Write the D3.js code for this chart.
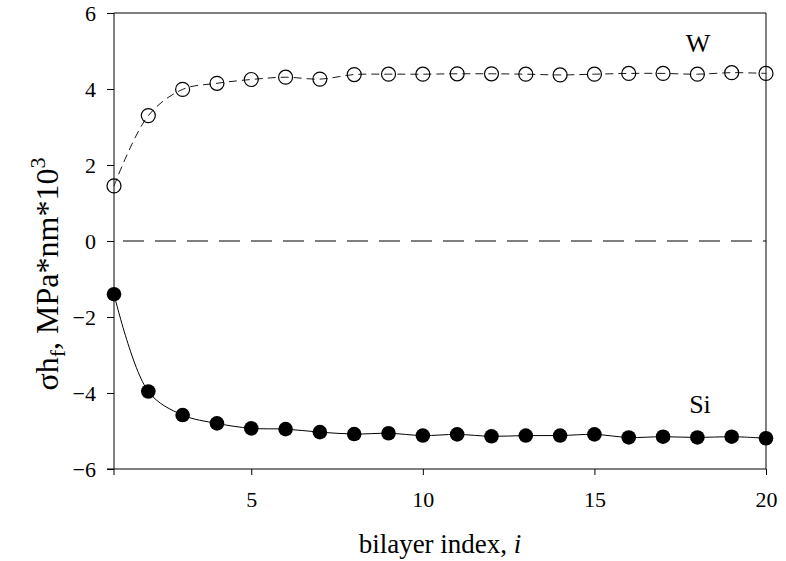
<!DOCTYPE html>
<html>
<head>
<meta charset="utf-8">
<script src="https://cdn.jsdelivr.net/npm/d3@7"></script>
<style>
  body { margin: 0; background: #fff; }
  text { font-family: "Liberation Serif", "Times New Roman", serif; fill: #000; }
</style>
</head>
<body>
<div class="chart"></div>
<script>
// bilayer index
var bilayer = d3.range(1, 21);
// W layers (open circles)
var wValues = [1.45, 3.30, 3.99, 4.15, 4.25, 4.31, 4.26, 4.38, 4.39, 4.39, 4.40, 4.40, 4.39,
    4.37, 4.39, 4.41, 4.41, 4.39, 4.43, 4.41];
// Si layers (filled circles)
var siValues = [-1.40, -3.96, -4.58, -4.80, -4.93, -4.95, -5.03, -5.08, -5.06, -5.12, -5.09, -5.14, -5.12,
    -5.12, -5.09, -5.17, -5.15, -5.17, -5.15, -5.19];
var xTicks = [5, 10, 15, 20];
var yTicks = [-6, -4, -2, 0, 2, 4, 6];

var width = 786, height = 561;
var margin = { top: 13, right: 20, bottom: 92, left: 114 };

var svg = d3.select(".chart").append("svg")
    .attr("width", width)
    .attr("height", height);

var x = d3.scaleLinear()
    .domain([1, 20])
    .range([margin.left, width - margin.right]);
var y = d3.scaleLinear()
    .domain([-6, 6])
    .range([height - margin.bottom, margin.top]);

// frame (top, right)
svg.append("path")
    .attr("d", `M${x(1)},${y(6)}H${x(20)}V${y(-6)}`)
    .attr("fill", "none")
    .attr("stroke", "#000");

var xAxis = svg.append("g")
    .attr("transform", `translate(0,${y(-6)})`)
    .call(d3.axisBottom(x).tickValues(xTicks).tickSize(6).tickSizeOuter(0).tickPadding(16));
var yAxis = svg.append("g")
    .attr("transform", `translate(${x(1)},0)`)
    .call(d3.axisLeft(y).tickValues(yTicks).tickSize(7).tickSizeOuter(0).tickPadding(11));

svg.selectAll(".domain").remove();
svg.append("line")
    .attr("x1", x(1) - 7).attr("x2", x(20))
    .attr("y1", y(-6)).attr("y2", y(-6))
    .attr("stroke", "#000");
svg.append("line")
    .attr("x1", x(1)).attr("x2", x(1))
    .attr("y1", y(6)).attr("y2", y(-6) + 6)
    .attr("stroke", "#000");

[xAxis, yAxis].forEach(function (g) {
    g.attr("font-family", null);
    g.selectAll("text")
        .style("font-family", "'Liberation Serif', serif")
        .style("font-size", "22px")
        .attr("fill", "#000");
    g.selectAll("line").attr("stroke", "#000");
});

// zero reference line
svg.append("line")
    .attr("x1", x(1)).attr("x2", x(20))
    .attr("y1", y(0)).attr("y2", y(0))
    .attr("stroke", "#000")
    .attr("stroke-dasharray", "21,11")
    .attr("stroke-dashoffset", 23);

var line = d3.line()
    .x((d, i) => x(bilayer[i]))
    .y(d => y(d))
    .curve(d3.curveCatmullRom.alpha(0.5));

svg.append("path")
    .datum(wValues)
    .attr("d", line)
    .attr("fill", "none")
    .attr("stroke", "#000")
    .attr("stroke-width", 0.9)
    .attr("stroke-dasharray", "8,5");

svg.append("path")
    .datum(siValues)
    .attr("d", line)
    .attr("fill", "none")
    .attr("stroke", "#000")
    .attr("stroke-width", 1);

svg.append("g")
    .selectAll("circle")
    .data(wValues)
    .enter().append("circle")
    .attr("cx", (d, i) => x(bilayer[i]))
    .attr("cy", d => y(d))
    .attr("r", 7)
    .attr("fill", "none")
    .attr("stroke", "#000")
    .attr("stroke-width", 1.2);

svg.append("g")
    .selectAll("circle")
    .data(siValues)
    .enter().append("circle")
    .attr("cx", (d, i) => x(bilayer[i]))
    .attr("cy", d => y(d))
    .attr("r", 7.3)
    .attr("fill", "#000");

// series labels
svg.append("text")
    .attr("x", 698).attr("y", 52)
    .attr("text-anchor", "middle")
    .style("font-size", "26px")
    .text("W");
svg.append("text")
    .attr("x", 700).attr("y", 413)
    .attr("text-anchor", "middle")
    .style("font-size", "26px")
    .text("Si");

// axis titles
var xt = svg.append("text")
    .attr("x", (x(1) + x(20)) / 2)
    .attr("y", 553)
    .attr("text-anchor", "middle")
    .style("font-size", "27px");
xt.append("tspan").text("bilayer index, ");
xt.append("tspan").style("font-style", "italic").text("i");

var yt = svg.append("text")
    .attr("transform", "translate(58,274) rotate(-90)")
    .attr("text-anchor", "middle")
    .style("font-size", "32px");
yt.append("tspan").text("\u03c3h");
yt.append("tspan").attr("dy", 7).style("font-size", "22px").text("f");
yt.append("tspan").attr("dy", -7).text(", MPa*nm*10");
yt.append("tspan").attr("dy", -13).style("font-size", "22px").text("3");
</script>
</body>
</html>
